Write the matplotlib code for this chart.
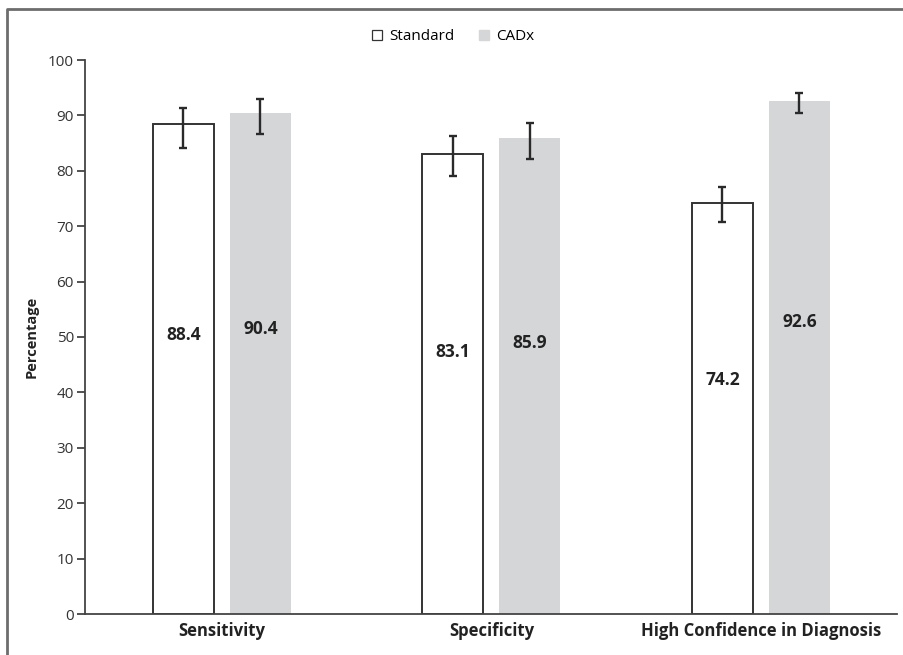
#!/usr/bin/env python3
import matplotlib
matplotlib.use("Agg")
import matplotlib.pyplot as plt
from matplotlib.lines import Line2D
import numpy as np

plt.rcParams['font.family'] = ['Open Sans', 'DejaVu Sans']

# Data
categories = ["Sensitivity", "Specificity", "High Confidence in Diagnosis"]
standard = [88.4, 83.1, 74.2]
standard_lo = [84.1, 79.1, 70.8]
standard_hi = [91.3, 86.3, 77.1]
cadx = [90.4, 85.9, 92.6]
cadx_lo = [86.6, 82.1, 90.4]
cadx_hi = [93.0, 88.6, 94.0]
yticks = list(range(0, 101, 10))

fig = plt.figure(figsize=(9.04, 6.55), dpi=100)
ax = fig.add_axes([85 / 904, 41 / 655, 812 / 904, 554 / 655])

x = np.arange(len(categories))
w = 0.226
off = 0.143
dark = "#2a2a2a"
grey = "#d5d6d8"

ax.bar(x - off, standard, w, color="white", edgecolor="#333333", linewidth=1.4, zorder=2)
ax.bar(x + off, cadx, w, color=grey, edgecolor="none", zorder=2)

# error bars
s_err = [np.array(standard) - np.array(standard_lo), np.array(standard_hi) - np.array(standard)]
c_err = [np.array(cadx) - np.array(cadx_lo), np.array(cadx_hi) - np.array(cadx)]
ax.errorbar(x - off, standard, yerr=s_err, fmt="none", ecolor=dark, elinewidth=1.7,
            capsize=3, capthick=1.7, zorder=3)
ax.errorbar(x + off, cadx, yerr=c_err, fmt="none", ecolor=dark, elinewidth=1.7,
            capsize=3, capthick=1.7, zorder=3)

# value labels inside bars
for xi, v in zip(x - off, standard):
    ax.text(xi, v * 0.57, f"{v:.1f}", ha="center", va="center", fontsize=12.5,
            fontweight="bold", color="#222222")
for xi, v in zip(x + off, cadx):
    ax.text(xi, v * 0.57, f"{v:.1f}", ha="center", va="center", fontsize=12.5,
            fontweight="bold", color="#222222")

ax.set_xlim(-0.508, 2.505)
ax.set_ylim(0, 100)
ax.set_yticks(yticks)
ax.set_yticklabels([str(t) for t in yticks], fontsize=11, color="#333333")
ax.set_xticks(x)
ax.set_xticklabels(categories, fontsize=12, fontweight="bold", color="#222222")
ax.tick_params(axis="x", length=0, pad=6)
ax.tick_params(axis="y", length=6, width=1.3, color="#444444", pad=2, direction="out")
ax.set_ylabel("Percentage", fontsize=10.5, fontweight="bold", color="#222222", labelpad=7)

for s in ["top", "right"]:
    ax.spines[s].set_visible(False)
ax.spines["left"].set_color("#444444")
ax.spines["left"].set_linewidth(1.3)
ax.spines["bottom"].set_color("#444444")
ax.spines["bottom"].set_linewidth(1.3)

# legend
handles = [
    Line2D([], [], marker="s", linestyle="none", markersize=7, markerfacecolor="white",
           markeredgecolor="#333333", markeredgewidth=0.9),
    Line2D([], [], marker="s", linestyle="none", markersize=7, markerfacecolor=grey,
           markeredgecolor=grey),
]
fig.legend(handles, ["Standard", "CADx"], loc="center", bbox_to_anchor=(0.5, 1 - 37 / 655),
           ncol=2, frameon=False, fontsize=11, handletextpad=0.3, columnspacing=1.4,
           handlelength=1.0)

# outer frame (top and left)
frame_col = "#6d6d6d"
fig.add_artist(Line2D([7 / 904, 7 / 904, 1.0], [0.0, 1 - 9 / 655, 1 - 9 / 655],
                      transform=fig.transFigure, color=frame_col, linewidth=2))

fig.savefig("out.png", dpi=100)
